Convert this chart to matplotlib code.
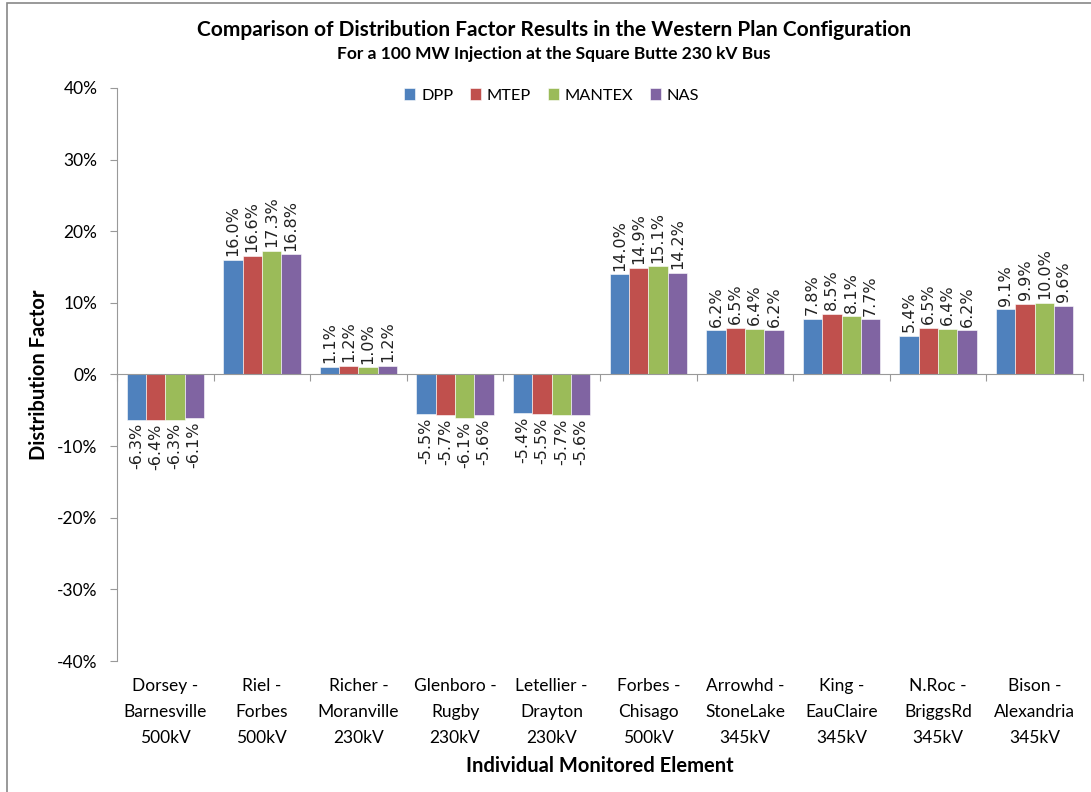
import numpy as np
import matplotlib.pyplot as plt
from matplotlib.patches import Rectangle

# Data (percent)
elements = [
    "Dorsey -\nBarnesville\n500kV",
    "Riel -\nForbes\n500kV",
    "Richer -\nMoranville\n230kV",
    "Glenboro -\nRugby\n230kV",
    "Letellier -\nDrayton\n230kV",
    "Forbes -\nChisago\n500kV",
    "Arrowhd -\nStoneLake\n345kV",
    "King -\nEauClaire\n345kV",
    "N.Roc -\nBriggsRd\n345kV",
    "Bison -\nAlexandria\n345kV",
]
series_names = ["DPP", "MTEP", "MANTEX", "NAS"]
dpp = [-6.3, 16.0, 1.1, -5.5, -5.4, 14.0, 6.2, 7.8, 5.4, 9.1]
mtep = [-6.4, 16.6, 1.2, -5.7, -5.5, 14.9, 6.5, 8.5, 6.5, 9.9]
mantex = [-6.3, 17.3, 1.0, -6.1, -5.7, 15.1, 6.4, 8.1, 6.4, 10.0]
nas = [-6.1, 16.8, 1.2, -5.6, -5.6, 14.2, 6.2, 7.7, 6.2, 9.6]
y_ticks = [-40, -30, -20, -10, 0, 10, 20, 30, 40]

colors = ["#4F81BD", "#C0504D", "#9BBB59", "#8064A2"]
all_series = [dpp, mtep, mantex, nas]

plt.rcParams["font.family"] = ["Lato", "DejaVu Sans"]

fig = plt.figure(figsize=(10.91, 7.92), dpi=100)
ax = fig.add_axes([0.1072, 0.1654, 0.8855, 0.7235])

x = np.arange(len(elements))
bar_w = 0.2

for k, (name, vals, col) in enumerate(zip(series_names, all_series, colors)):
    pos = x - 0.3 + k * bar_w
    ax.bar(pos, vals, width=bar_w, color=col, edgecolor="white",
           linewidth=0.4, label=name, zorder=2)
    for px, v in zip(pos, vals):
        off = 0.5 if v >= 0 else -0.5
        ax.text(px, v + off, f"{v:.1f}%", rotation=90, ha="center",
                va="bottom" if v >= 0 else "top", fontsize=11.5,
                family="DejaVu Sans", color="#222222")

ax.set_xlim(-0.5, len(elements) - 0.5)
ax.set_ylim(-40, 40)
ax.set_yticks(y_ticks)
ax.set_yticklabels([f"{t}%" for t in y_ticks], fontsize=12.5)

# x axis drawn at zero, ticks at group boundaries
ax.spines["bottom"].set_position(("data", 0))
ax.set_xticks(np.arange(len(elements) + 1) - 0.5)
ax.set_xticklabels([])
ax.tick_params(axis="x", length=5, color="#999999", direction="out")
ax.tick_params(axis="y", length=5, color="#999999", direction="out", pad=9)
for s in ["top", "right"]:
    ax.spines[s].set_visible(False)
for s in ["left", "bottom"]:
    ax.spines[s].set_color("#999999")

trans = ax.get_xaxis_transform()
for i, lab in enumerate(elements):
    ax.text(i, -0.03, lab, transform=trans, ha="center", va="top",
            fontsize=12.5, linespacing=1.75)

ax.set_ylabel("Distribution Factor", fontsize=14.5, fontweight="bold", labelpad=6)
fig.text(0.55, 0.025, "Individual Monitored Element", ha="center",
         fontsize=14.5, fontweight="bold")

fig.text(0.508, 0.962, "Comparison of Distribution Factor Results in the Western Plan Configuration",
         ha="center", va="center", fontsize=15, fontweight="bold")
fig.text(0.508, 0.932, "For a 100 MW Injection at the Square Butte 230 kV Bus",
         ha="center", va="center", fontsize=12.5, fontweight="bold")

ax.legend(loc="upper center", bbox_to_anchor=(0.45, 1.025), ncol=4, frameon=False,
          fontsize=11.8, handlelength=0.7, handleheight=0.7, handletextpad=0.35,
          columnspacing=1.0)

fig.patches.append(Rectangle((0.0064, -0.01), 1.1, 1.0062, transform=fig.transFigure,
                             fill=False, edgecolor="#888888", linewidth=1.2))

fig.savefig("out.png", dpi=100)
